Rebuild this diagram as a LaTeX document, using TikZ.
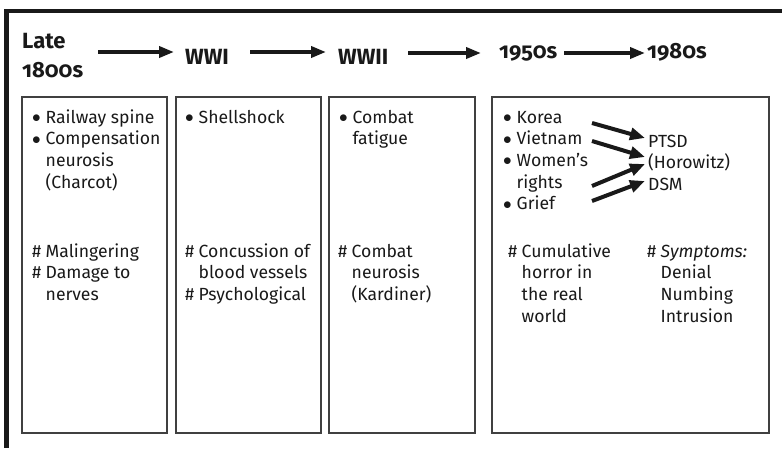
\documentclass[tikz,border=0pt]{standalone}
\usepackage{fontspec}
\setmainfont{Fira Sans}[Numbers=OldStyle]
\usetikzlibrary{arrows.meta}
% body and heading type
\newcommand\bodyfont{\fontsize{17.6}{21.7}\selectfont}
\newcommand\headfont{\fontsize{22}{29}\selectfont\bfseries}
% marker column (bullet or hash) with hanging text
\newcommand\mk[1]{\makebox[13.5pt][l]{#1}}
\newcommand\dotmark{\raisebox{0.5pt}{$\bullet$}}
\newcommand\lst[1]{\begin{tabular}[t]{@{}l@{}}#1\end{tabular}}
\tikzset{
  frame/.style={line width=4.5pt, line join=miter, draw=black!90},
  era/.style={draw=black!75, line width=1.3pt},
  body/.style={font=\bodyfont, inner sep=0pt, anchor=base west, text=black!90},
  head/.style={font=\headfont, inner sep=0pt, anchor=base west, text=black!90},
  timeline/.style={line width=3.6pt, draw=black!90,
    -{Triangle[length=15pt,width=11pt]}},
  feed/.style={line width=4pt, draw=black!90,
    -{Triangle[length=15pt,width=12pt]}}
}
\begin{document}
\begin{tikzpicture}[x=1pt,y=-1pt]
\useasboundingbox (0,0) rectangle (782,448);

% outer frame: top and left rules
\draw[frame] (782,11) -- (6.5,11) -- (6.5,448);

% era panels
\draw[era] (22,97) rectangle (167,433);
\draw[era] (176,97) rectangle (321,433);
\draw[era] (329,97) rectangle (475,433);
\draw[era] (492,97) rectangle (769,433);

% timeline headings
\node[head] (late) at (22,48) {\lst{Late\\1800s}};
\node[head] (wwi) at (185,64) {WWI};
\node[head] (wwii) at (338,64) {WWII};
\node[head] (fifties) at (499,58) {1950s};
\node[head] (eighties) at (647,58) {1980s};

\coordinate (h1s) at (98,52);  \coordinate (h1e) at (174,52);
\coordinate (h2s) at (250,52); \coordinate (h2e) at (326,52);
\coordinate (h3s) at (408,53); \coordinate (h3e) at (481,53);
\coordinate (h4s) at (564,53); \coordinate (h4e) at (645,53);
\draw[timeline] (h1s) -- (h1e);
\draw[timeline] (h2s) -- (h2e);
\draw[timeline] (h3s) -- (h3e);
\draw[timeline] (h4s) -- (h4e);

% late 1800s
\node[body] (l1) at (32,123) {\lst{\mk{\dotmark}Railway spine\\ \mk{\dotmark}Compensation\\ \mk{}neurosis\\ \mk{}(Charcot)}};
\node[body] (l2) at (32,257) {\lst{\mk{\#}Malingering\\ \mk{\#}Damage to\\ \mk{}nerves}};

% WWI
\node[body] (w1) at (185,123) {\lst{\mk{\dotmark}Shellshock}};
\node[body] (w2) at (185,257) {\lst{\mk{\#}Concussion of\\ \mk{}blood vessels\\ \mk{\#}Psychological}};

% WWII
\node[body] (v1) at (339,123) {\lst{\mk{\dotmark}Combat\\ \mk{}fatigue}};
\node[body] (v2) at (338,257) {\lst{\mk{\#}Combat\\ \mk{}neurosis\\ \mk{}(Kardiner)}};

% 1950s to 1980s
\node[body] (f1) at (503,123) {\lst{\mk{\dotmark}Korea\\ \mk{\dotmark}Vietnam\\ \mk{\dotmark}Women’s\\ \mk{}rights\\ \mk{\dotmark}Grief}};
\node[body] (ptsd) at (648,147) {\lst{PTSD\\ (Horowitz)\\ DSM}};
\node[body] (f2) at (508,257) {\lst{\mk{\#}Cumulative\\ \mk{}horror in\\ \mk{}the real\\ \mk{}world}};
\node[body] (sym) at (647,257) {\lst{\mk{\#}\textit{Symptoms:}\\ \mk{}Denial\\ \mk{}Numbing\\ \mk{}Intrusion}};

\coordinate (k1) at (592,123); \coordinate (p1) at (645,138);
\coordinate (k2) at (592,141); \coordinate (p2) at (645,157);
\coordinate (k3) at (592,186); \coordinate (p3) at (645,164);
\coordinate (k4) at (592,201); \coordinate (p4) at (645,181);
\draw[feed] (k1) -- (p1);
\draw[feed] (k2) -- (p2);
\draw[feed] (k3) -- (p3);
\draw[feed] (k4) -- (p4);
\end{tikzpicture}
\end{document}
